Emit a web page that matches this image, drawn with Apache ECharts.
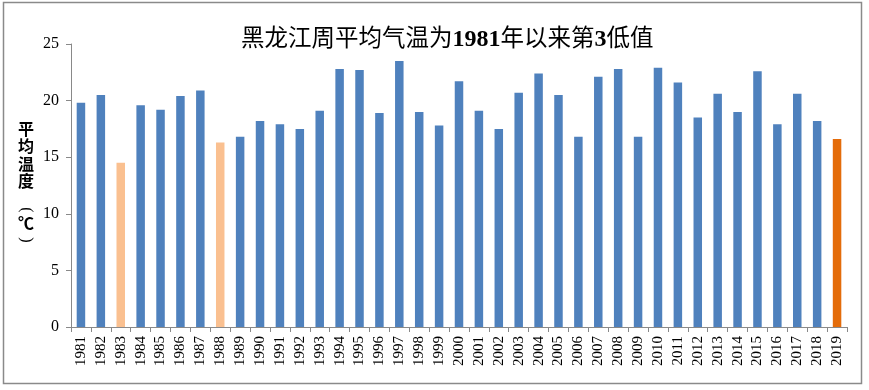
<!DOCTYPE html>
<html>
<head>
<meta charset="utf-8">
<script src="https://cdn.jsdelivr.net/npm/echarts@6/dist/echarts.min.js"></script>
<style>
html,body{margin:0;padding:0;background:#fff;}
#chart{width:869px;height:390px;}
</style>
</head>
<body>
<div id="chart"></div>
<script>
const years = ['1981','1982','1983','1984','1985','1986','1987','1988','1989','1990','1991','1992','1993','1994','1995','1996','1997','1998','1999','2000','2001','2002','2003','2004','2005','2006','2007','2008','2009','2010','2011','2012','2013','2014','2015','2016','2017','2018','2019'];
const temps = [19.8,20.5,14.5,19.6,19.2,20.4,20.9,16.3,16.8,18.2,17.9,17.5,19.1,22.8,22.7,18.9,23.5,19.0,17.8,21.7,19.1,17.5,20.7,22.4,20.5,16.8,22.1,22.8,16.8,22.9,21.6,18.5,20.6,19.0,22.6,17.9,20.6,18.2,16.6];
const lowYears = ['1983','1988'];
const currentYear = '2019';
const yTicks = [0,5,10,15,20,25];
const titleText = '黑龙江周平均气温为{b|1981}年以来第{b|3}低值';
const yNameMain = '平\n均\n温\n度';
const yNameUnit = '℃';

const chart = echarts.init(document.getElementById('chart'));
const barData = years.map((y, i) => ({
  value: temps[i],
  itemStyle: { color: y === currentYear ? '#E46C0A' : (lowYears.includes(y) ? '#FAC090' : '#4F81BD') }
}));

const nameFont = '"Liberation Serif", "Noto Sans CJK SC"';

chart.setOption({
  animation: false,
  backgroundColor: '#fff',
  title: {
    text: titleText,
    left: 236,
    top: 23,
    textStyle: {
      fontFamily: '"Liberation Serif", "Noto Sans CJK SC"',
      fontSize: 23.5,
      fontWeight: 'normal',
      color: '#000',
      rich: {
        b: { fontFamily: '"Liberation Serif"', fontSize: 24, fontWeight: 'bold', color: '#000' }
      }
    }
  },
  grid: { left: 71, right: 22, top: 44, bottom: 63 },
  xAxis: {
    type: 'category',
    data: years,
    axisLine: { lineStyle: { color: '#898989', width: 1 } },
    axisTick: { show: true, alignWithLabel: false, length: 5, lineStyle: { color: '#898989' } },
    axisLabel: {
      rotate: 90,
      interval: 0,
      margin: 9,
      fontFamily: '"Liberation Serif"',
      fontSize: 15,
      color: '#000'
    }
  },
  yAxis: {
    type: 'value',
    min: yTicks[0],
    max: yTicks[yTicks.length - 1],
    interval: 5,
    axisLine: { show: true, lineStyle: { color: '#898989', width: 1 } },
    axisTick: { show: true, length: 5, lineStyle: { color: '#898989' } },
    splitLine: { show: false },
    axisLabel: {
      margin: 12,
      fontFamily: '"Liberation Serif"',
      fontSize: 16,
      color: '#000'
    }
  },
  series: [{
    type: 'bar',
    data: barData,
    barWidth: 8.5
  }],
  graphic: [
    {
      type: 'rect',
      shape: { x: 3.5, y: 2.5, width: 858, height: 381 },
      style: { fill: 'none', stroke: '#8a8a8a', lineWidth: 1.5 },
      silent: true
    },
    {
      type: 'text',
      x: 26,
      y: 122,
      style: {
        text: yNameMain,
        fontFamily: nameFont,
        fontSize: 16,
        fontWeight: 'bold',
        lineHeight: 17.5,
        fill: '#000',
        align: 'center',
        verticalAlign: 'top'
      }
    },
    {
      type: 'text',
      x: 26,
      y: 210,
      rotation: -Math.PI / 2,
      style: {
        text: '(',
        fontFamily: '"Liberation Serif"',
        fontSize: 16,
        fill: '#000',
        align: 'center',
        verticalAlign: 'middle'
      }
    },
    {
      type: 'text',
      x: 26,
      y: 225,
      style: {
        text: yNameUnit,
        fontFamily: nameFont,
        fontSize: 16,
        fontWeight: 'bold',
        fill: '#000',
        align: 'center',
        verticalAlign: 'middle'
      }
    },
    {
      type: 'text',
      x: 26,
      y: 240,
      rotation: -Math.PI / 2,
      style: {
        text: ')',
        fontFamily: '"Liberation Serif"',
        fontSize: 16,
        fill: '#000',
        align: 'center',
        verticalAlign: 'middle'
      }
    }
  ]
});
</script>
</body>
</html>
